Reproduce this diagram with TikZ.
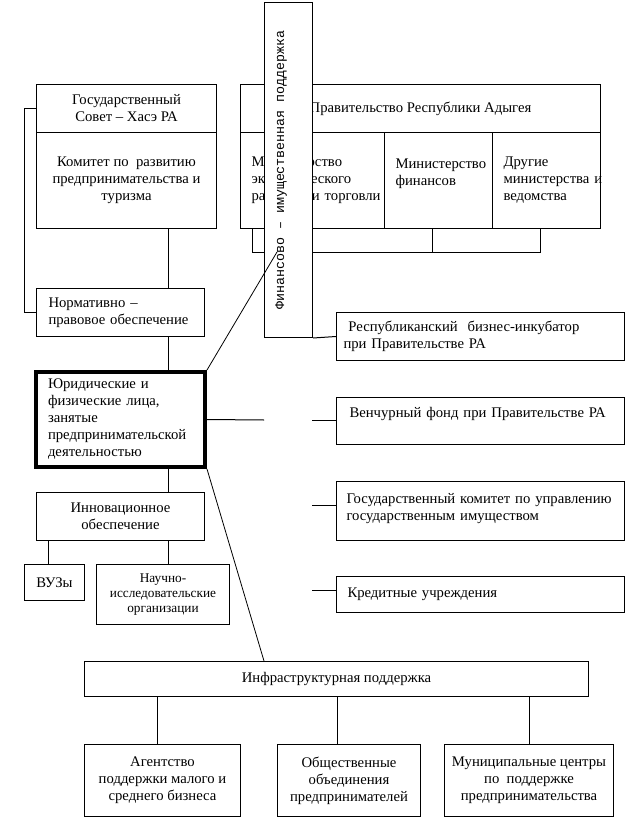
\documentclass[tikz,border=0pt]{standalone}
\usepackage{fontspec}
\setmainfont{Liberation Serif}
\newfontfamily\monofam{Liberation Mono}
\usetikzlibrary{positioning,calc}

\begin{document}
\begin{tikzpicture}[x=1pt,y=-1pt,
 font=\fontsize{14.7}{17}\selectfont,
 cell/.style={draw,line width=1pt,rectangle,inner sep=0pt,anchor=north west,align=center},
 lcell/.style={cell,align=left,inner xsep=11pt},
 ln/.style={line width=1pt},
 slant/.style={line width=0.8pt}]
\useasboundingbox (0,0) rectangle (637,818);
\coordinate (sp) at (168,0);
\coordinate (vx) at (48,0);
\coordinate (b1) at (252,252);
\coordinate (b2) at (432,252);
\coordinate (b3) at (540,252);
\coordinate (bk) at (277,252);
\coordinate (gapl) at (264,420);
\coordinate (gapr) at (312,420);
\coordinate (st3) at (312,505);
\coordinate (st4) at (312,590);
\coordinate (lowend) at (264,661);
\coordinate (i1) at (157,0);
\coordinate (i2) at (337,0);
\coordinate (i3) at (529,0);

\node[cell,minimum width=180pt,minimum height=48pt] (gst) at (36,84) {Государственный\\Совет – Хасэ РА};
\node[cell,minimum width=180pt,minimum height=96pt] (gsk) at (36,132) {Комитет по~~развитию\\предпринимательства и\\туризма};
\node[cell,minimum width=360pt,minimum height=48pt] (gov) at (240,84) {Правительство Республики Адыгея};
\node[lcell,text width=122pt,minimum width=144pt,minimum height=96pt] (gov1) at (240,132) {Министерство\\экономического\\развития~и~торговли};
\node[lcell,text width=86pt,minimum width=108pt,minimum height=96pt] (gov2) at (384,132) {Министерство\\финансов\\\mbox{}};
\node[lcell,text width=86pt,minimum width=108pt,minimum height=96pt] (gov3) at (492,132) {Другие\\министерства~и\\ведомства};
\draw[ln] (b1 |- gov1.south) -- (b1) -- (b3) -- (b3 |- gov3.south);
\draw[ln] (b2 |- gov2.south) -- (b2);

\node[cell,fill=white,minimum width=48pt,minimum height=335pt] (fin) at (264,2) {};
\node[rotate=90,font=\monofam\fontsize{13.3}{15}\selectfont] (fintxt) at (281,170) {Финансово – имущественная поддержка};

\node[lcell,inner xsep=12pt,text width=144pt,minimum width=168pt,minimum height=48pt] (norm) at (36,288) {Нормативно –\\правовое обеспечение};
\node[lcell,line width=4pt,inner xsep=12pt,text width=145pt,minimum width=169pt,minimum height=95pt] (jur) at (34,370) {Юридические и\\физические лица,\\занятые\\предпринимательской\\деятельностью};
\node[cell,minimum width=168pt,minimum height=48pt] (innov) at (36,492) {Инновационное\\обеспечение};
\node[cell,minimum width=60pt,minimum height=36pt] (vuz) at (24,564) {ВУЗы};
\node[cell,font=\fontsize{13.3}{15}\selectfont,minimum width=133pt,minimum height=60pt] (nauch) at (96,564) {Научно-\\исследовательские\\организации};

\node[lcell,inner xsep=7pt,text width=274pt,minimum width=288pt,minimum height=48pt] (incub) at (336,312) {\ Республиканский~~бизнес-инкубатор\\при Правительстве РА};
\node[lcell,inner xsep=13pt,text width=262pt,minimum width=288pt,minimum height=47pt] (vent) at (336,397) {Венчурный фонд при Правительстве РА\\\mbox{}};
\node[lcell,inner xsep=10pt,text width=268pt,minimum width=288pt,minimum height=59pt] (gk) at (336,481) {Государственный комитет по управлению\\государственным имуществом\\[-8pt]\mbox{}};
\node[lcell,inner xsep=11pt,text width=266pt,minimum width=288pt,minimum height=36pt] (kr) at (336,576) {Кредитные учреждения};

\node[cell,minimum width=504pt,minimum height=35pt] (infra) at (84,661) {Инфраструктурная поддержка};
\node[cell,minimum width=156pt,minimum height=72pt] (agency) at (84,744) {Агентство\\поддержки малого и\\среднего бизнеса};
\node[cell,minimum width=143pt,minimum height=72pt] (obsh) at (277,744) {Общественные\\объединения\\предпринимателей};
\node[cell,minimum width=169pt,minimum height=72pt] (munic) at (444,744) {Муниципальные центры\\по~~поддержке\\предпринимательства};

\draw[ln] (gst.west) -- ++(-12,0) |- (norm.west);
\draw[ln] (sp |- gsk.south) -- (sp |- norm.north);
\draw[ln] (sp |- norm.south) -- (sp |- jur.north);
\draw[ln] (sp |- jur.south) -- (sp |- innov.north);
\draw[ln] (vx |- innov.south) -- (vx |- vuz.north);
\draw[ln] (sp |- innov.south) -- (sp |- nauch.north);
\draw[ln] (fin.south east) -- (incub.west);
\draw[ln] (jur.east) -- (gapl);
\draw[ln] (gapr) -- (gapr -| vent.west);
\draw[ln] (st3) -- (st3 -| gk.west);
\draw[ln] (st4) -- (st4 -| kr.west);
\draw[slant] (jur.north east) -- (bk);
\draw[slant] (jur.south east) -- (lowend);
\draw[ln] (i1 |- infra.south) -- (i1 |- agency.north);
\draw[ln] (i2 |- infra.south) -- (i2 |- obsh.north);
\draw[ln] (i3 |- infra.south) -- (i3 |- munic.north);
\end{tikzpicture}
\end{document}
